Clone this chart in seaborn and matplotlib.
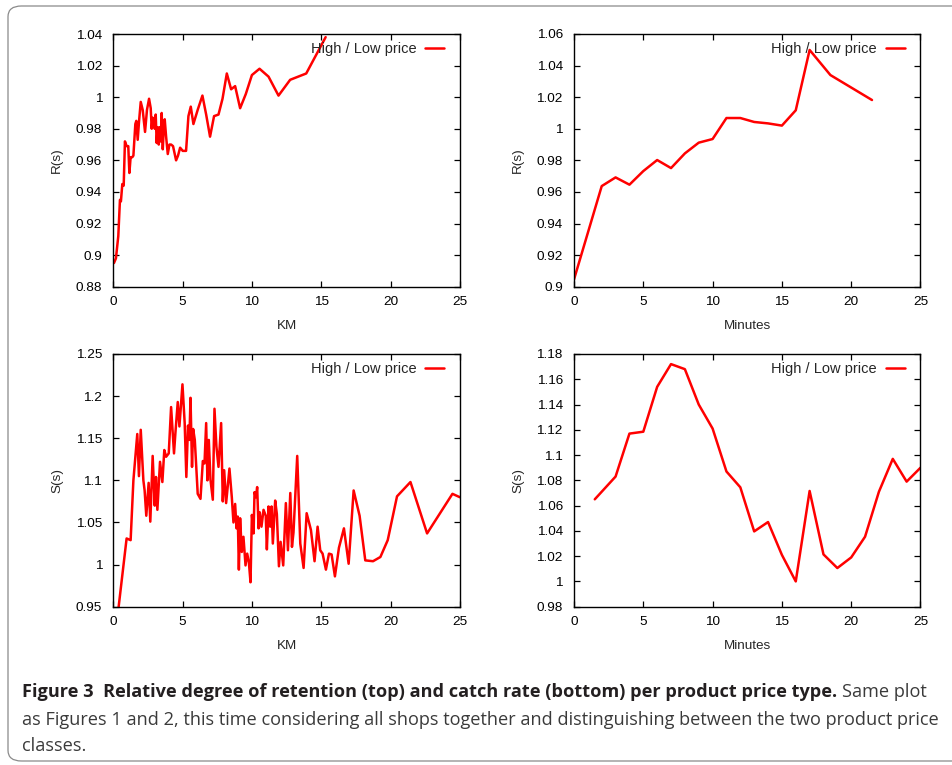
import matplotlib
matplotlib.use("Agg")
import matplotlib.pyplot as plt
from matplotlib.patches import FancyBboxPatch
from matplotlib.ticker import FuncFormatter, MultipleLocator
import seaborn as sns

# Retention R(s) vs distance (top left)
ret_km_x = [0.05, 0.19, 0.36, 0.48, 0.55, 0.65, 0.75, 0.84, 0.96, 1.08, 1.16, 1.25, 1.37,
            1.45, 1.59, 1.66, 1.76, 1.86, 1.98, 2.12, 2.29, 2.43, 2.58, 2.70, 2.77, 2.84,
            2.94, 2.99, 3.06, 3.13, 3.20, 3.28, 3.35, 3.42, 3.49, 3.57, 3.64, 3.71, 3.81,
            3.93, 4.05, 4.17, 4.31, 4.53, 4.67, 4.82, 5.01, 5.25, 5.42, 5.59, 5.78, 6.09,
            6.43, 6.70, 6.98, 7.27, 7.59, 7.88, 8.19, 8.50, 8.79, 9.15, 9.56, 10.0, 10.55,
            11.2, 11.92, 12.76, 13.92, 15.32]
ret_km_y = [0.895, 0.898, 0.912, 0.935, 0.934, 0.945, 0.944, 0.972, 0.969, 0.969, 0.952,
            0.962, 0.962, 0.963, 0.983, 0.985, 0.973, 0.985, 0.997, 0.992, 0.978, 0.992,
            0.999, 0.993, 0.980, 0.987, 0.986, 0.980, 0.989, 0.971, 0.981, 0.970, 0.981,
            0.972, 0.990, 0.967, 0.980, 0.986, 0.975, 0.964, 0.970, 0.970, 0.969, 0.960,
            0.963, 0.968, 0.966, 0.966, 0.988, 0.994, 0.983, 0.992, 1.001, 0.989, 0.975,
            0.988, 0.989, 0.999, 1.015, 1.005, 1.007, 0.993, 1.002, 1.014, 1.018, 1.013,
            1.001, 1.011, 1.015, 1.038]

# Retention R(s) vs time (top right)
ret_min_x = [0, 2, 3, 4, 5, 6, 7, 8, 9, 10, 11, 12, 13, 14, 15, 16, 17, 18.5, 21.5]
ret_min_y = [0.9046, 0.9637, 0.9692, 0.9646, 0.9732, 0.9802, 0.9751, 0.9844, 0.9912,
             0.9935, 1.0068, 1.0068, 1.0043, 1.0034, 1.0020, 1.0117, 1.0499, 1.0340, 1.0182]

# Catch rate S(s) vs distance (bottom left)
catch_km_x = [0.28, 0.96, 1.25, 1.45, 1.73, 1.85, 1.98, 2.17, 2.26, 2.38, 2.55, 2.67, 2.84,
              2.99, 3.08, 3.18, 3.37, 3.54, 3.68, 3.81, 4.0, 4.17, 4.38, 4.48, 4.65, 4.77,
              4.99, 5.15, 5.27, 5.39, 5.49, 5.57, 5.68, 5.76, 5.88, 6.09, 6.29, 6.46, 6.58,
              6.70, 6.79, 6.89, 7.01, 7.18, 7.30, 7.44, 7.59, 7.78, 7.90, 8.0, 8.14, 8.38,
              8.55, 8.67, 8.79, 8.89, 8.98, 9.06, 9.15, 9.27, 9.39, 9.54, 9.66, 9.78, 9.90,
              10.0, 10.12, 10.19, 10.29, 10.38, 10.48, 10.57, 10.69, 10.84, 11.0, 11.08,
              11.2, 11.32, 11.42, 11.51, 11.68, 11.80, 11.95, 12.07, 12.26, 12.45, 12.60,
              12.77, 12.89, 13.0, 13.27, 13.49, 13.73, 13.95, 14.26, 14.52, 14.74, 14.93,
              15.1, 15.34, 15.56, 15.75, 15.99, 16.28, 16.64, 16.98, 17.34, 17.77, 18.18,
              18.74, 19.27, 19.80, 20.47, 21.44, 22.64, 24.47, 25.0]
catch_km_y = [0.935, 1.031, 1.029, 1.100, 1.155, 1.105, 1.160, 1.100, 1.088, 1.058, 1.097,
              1.051, 1.129, 1.070, 1.104, 1.065, 1.122, 1.098, 1.136, 1.128, 1.132, 1.187,
              1.132, 1.156, 1.193, 1.164, 1.214, 1.168, 1.104, 1.165, 1.148, 1.198, 1.116,
              1.161, 1.148, 1.084, 1.078, 1.123, 1.120, 1.168, 1.100, 1.148, 1.101, 1.077,
              1.185, 1.140, 1.116, 1.168, 1.075, 1.112, 1.073, 1.114, 1.080, 1.050, 1.072,
              1.043, 1.057, 0.994, 1.055, 1.015, 1.033, 0.999, 1.013, 1.003, 0.979, 1.059,
              1.037, 1.086, 1.080, 1.092, 1.043, 1.062, 1.045, 1.065, 1.058, 1.018, 1.069,
              1.045, 1.069, 1.025, 1.076, 1.060, 0.998, 1.027, 0.999, 1.073, 1.017, 1.085,
              1.021, 1.038, 1.129, 1.025, 0.996, 1.061, 1.041, 1.004, 1.045, 1.017, 1.013,
              0.994, 1.013, 1.012, 0.986, 1.020, 1.043, 1.001, 1.088, 1.058, 1.005, 1.004,
              1.009, 1.029, 1.081, 1.098, 1.037, 1.084, 1.080]

# Catch rate S(s) vs time (bottom right)
catch_min_x = [1.5, 3, 4, 5, 6, 7, 8, 9, 10, 11, 12, 13, 14, 15, 16, 17, 18, 19, 20, 21,
               22, 23, 24, 25]
catch_min_y = [1.065, 1.083, 1.117, 1.1185, 1.154, 1.172, 1.168, 1.140, 1.121, 1.087,
               1.0745, 1.0396, 1.047, 1.021, 1.000, 1.0716, 1.0214, 1.0106, 1.019, 1.0354,
               1.071, 1.097, 1.079, 1.090]

panels = [
    (ret_km_x, ret_km_y, "KM", "R(s)", (0.88, 1.04), 0.02),
    (ret_min_x, ret_min_y, "Minutes", "R(s)", (0.90, 1.06), 0.02),
    (catch_km_x, catch_km_y, "KM", "S(s)", (0.95, 1.25), 0.05),
    (catch_min_x, catch_min_y, "Minutes", "S(s)", (0.98, 1.18), 0.02),
]

sns.set_theme(style="white")
plt.rcParams["font.family"] = ["Liberation Sans", "DejaVu Sans"]
plt.rcParams.update({
    "xtick.direction": "in", "ytick.direction": "in",
    "xtick.top": True, "ytick.right": True,
    "xtick.major.size": 4.5, "ytick.major.size": 4.5,
    "xtick.major.width": 0.9, "ytick.major.width": 0.9,
    "xtick.bottom": True, "ytick.left": True,
    "axes.edgecolor": "black", "axes.linewidth": 1.0,
    "xtick.color": "black", "ytick.color": "black",
    "xtick.labelsize": 9.7, "ytick.labelsize": 9.7,
    "axes.labelsize": 9.7,
})

W, H = 953, 765
fig = plt.figure(figsize=(W / 100, H / 100), dpi=100)

lefts = [113.3, 574]
tops = [34, 354]
aw, ah = 346.5, 252.7

fmt = FuncFormatter(lambda v, p: f"{v:g}")

for i, (x, y, xl, yl, ylim, ystep) in enumerate(panels):
    r, c = divmod(i, 2)
    ax = fig.add_axes([lefts[c] / W, 1 - (tops[r] + ah) / H, aw / W, ah / H])
    sns.lineplot(x=x, y=y, ax=ax, color="red", lw=1.8, sort=False,
                 estimator=None, label="High / Low price")
    ax.set_xlim(0, 25)
    ax.set_ylim(*ylim)
    ax.xaxis.set_major_locator(MultipleLocator(5))
    ax.yaxis.set_major_locator(MultipleLocator(ystep))
    ax.yaxis.set_major_formatter(fmt)
    ax.xaxis.set_major_formatter(fmt)
    ax.tick_params(axis="x", pad=7)
    ax.tick_params(axis="y", pad=8)
    ax.set_xlabel(xl, labelpad=8)
    ax.set_ylabel(yl, labelpad=9)
    for s in ax.spines.values():
        s.set_visible(True)
        s.set_color("black")
    ax.legend(loc="upper right", bbox_to_anchor=(1 - 10 / aw, 1 - 2 / ah),
              frameon=False, markerfirst=False, fontsize=10.5,
              handlelength=1.3, handletextpad=0.6, borderaxespad=0,
              borderpad=0.4)

# rounded frame around the figure
frame = FancyBboxPatch((8 / W, 4 / H), 980 / W, 755 / H,
                       boxstyle="round,pad=0,rounding_size=0.014",
                       transform=fig.transFigure, fill=False,
                       edgecolor="#8a8a8a", lw=0.9, clip_on=False)
fig.patches.append(frame)

# caption
cap_font = ["Open Sans", "DejaVu Sans"]
cs = 13.1
t1 = fig.text(22 / W, 1 - 692 / H,
              "Figure 3  Relative degree of retention (top) and catch rate (bottom) per product price type.",
              fontsize=cs, fontweight="bold", family=cap_font, color="#231f20", va="center")
fig.canvas.draw()
bb = t1.get_window_extent(renderer=fig.canvas.get_renderer())
fig.text((bb.x1 + 5) / W, 1 - 692 / H, "Same plot", fontsize=cs, family=cap_font,
         color="#3a3a3a", va="center")
fig.text(22 / W, 1 - 720 / H,
         "as Figures 1 and 2, this time considering all shops together and distinguishing between the two product price",
         fontsize=cs, family=cap_font, color="#3a3a3a", va="center")
fig.text(22 / W, 1 - 746 / H, "classes.", fontsize=cs, family=cap_font,
         color="#3a3a3a", va="center")

fig.savefig("out.png", dpi=100)
